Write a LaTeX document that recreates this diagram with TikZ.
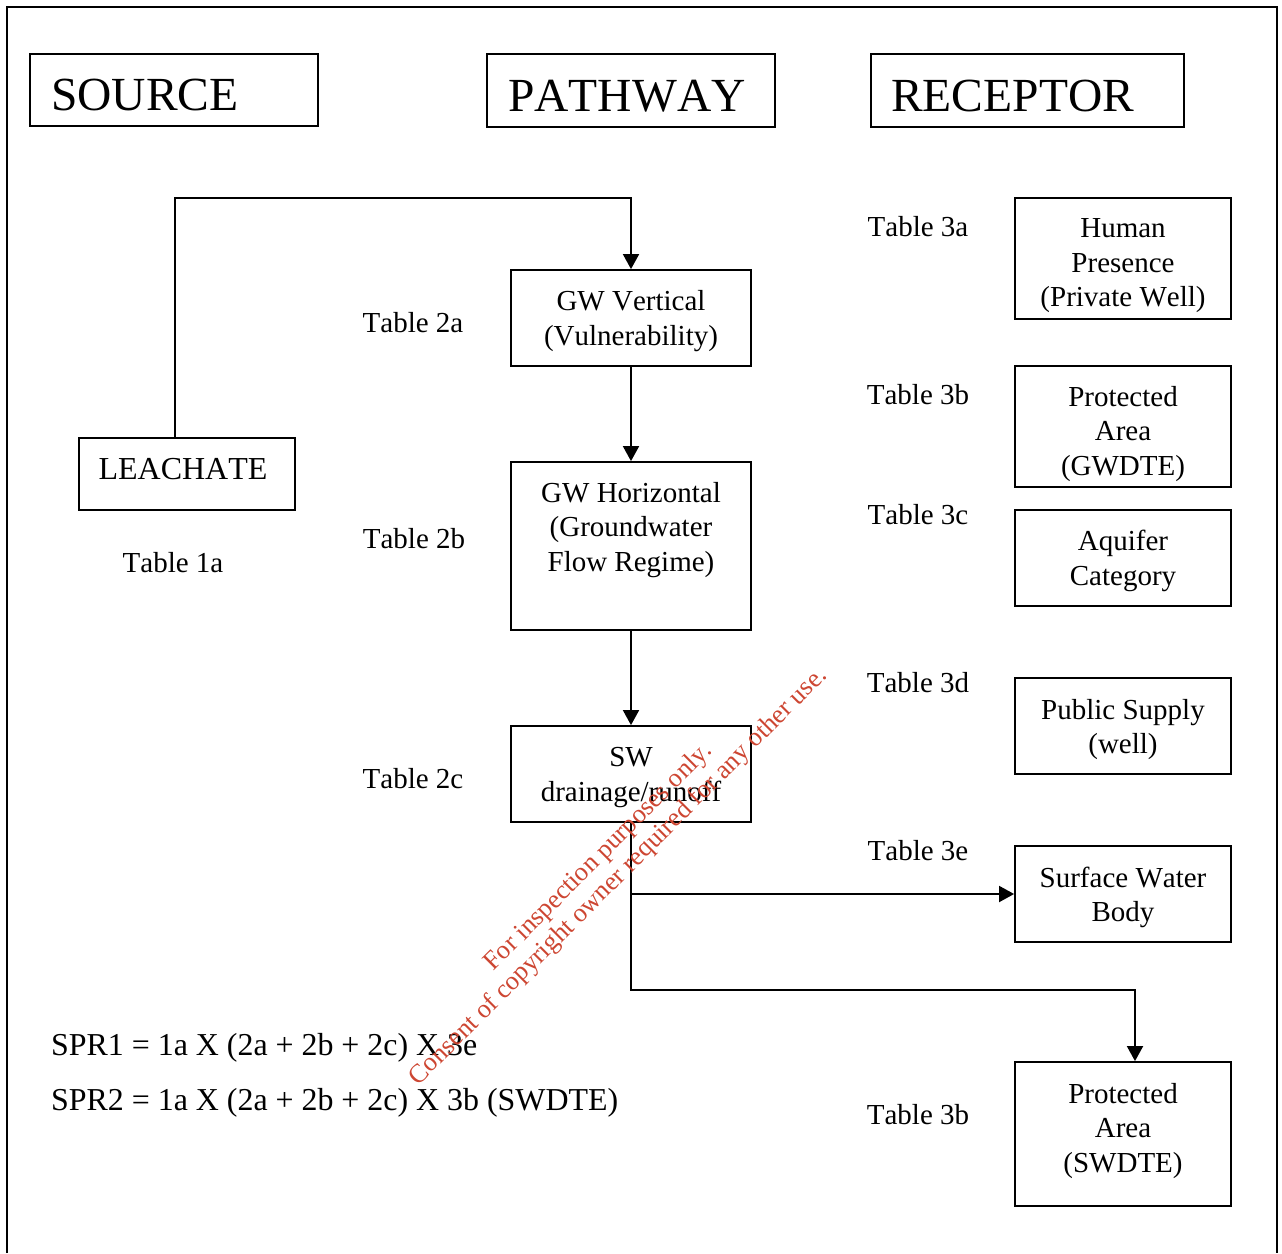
\documentclass[tikz,border=0pt]{standalone}
\usepackage{fontspec}
\setmainfont{Liberation Serif}[Kerning=Off]
\usetikzlibrary{arrows.meta}
\definecolor{wm}{RGB}{205,70,50}
\begin{document}
\begin{tikzpicture}[x=1pt,y=-1pt,
  box/.style={draw, line width=1.8pt, inner sep=0pt},
  txt/.style={font=\fontsize{29}{34.5}\selectfont, align=center, inner sep=0pt},
  mtxt/.style={txt, yshift=-4pt},
  big/.style={font=\fontsize{47.5}{56}\selectfont, inner sep=0pt, anchor=base west},
  conn/.style={line width=1.8pt},
  arr/.style={conn, -{Triangle[width=16pt,length=15pt]}}]

\useasboundingbox (0,0) rectangle (1282,1253);
\draw[line width=1.8pt] (7,1253) -- (7,7) -- (1277,7) -- (1277,1253);

% headers
\node[box, minimum width=288pt, minimum height=72pt] (srcbox) at (174,90) {};
\node[big] (src) at (51,110) {SOURCE};
\node[box, minimum width=288pt, minimum height=73pt] (pthbox) at (631,90.5) {};
\node[big] (pth) at (508,111) {PATHWAY};
\node[box, minimum width=313pt, minimum height=73pt] (recbox) at (1027.5,90.5) {};
\node[big] (rec) at (891,111) {RECEPTOR};

% source
\node[box, minimum width=216pt, minimum height=72pt] (leach) at (187,474) {};
\node[txt, font=\fontsize{32}{36}\selectfont] (leacht) at (183,469) {LEACHATE};
\node[txt] (t1a) at (173,563) {Table 1a};

% pathway
\node[box, minimum width=240pt, minimum height=96pt] (gwv) at (631,318) {};
\node[mtxt] (gwvt) at (631,317) {GW Vertical\\(Vulnerability)};
\node[box, minimum width=240pt, minimum height=168pt] (gwh) at (631,546) {};
\node[mtxt] (gwht) at (631,526) {GW Horizontal\\(Groundwater\\Flow Regime)};
\node[box, minimum width=240pt, minimum height=96pt] (sw) at (631,774) {};
\node[mtxt] (swt) at (631,773.5) {SW\\drainage/runoff};
\node[txt] (t2a) at (413,323) {Table 2a};
\node[txt] (t2b) at (414,539) {Table 2b};
\node[txt] (t2c) at (413,779) {Table 2c};

% receptors
\node[box, minimum width=216pt, minimum height=121pt] (hp) at (1123,258.5) {};
\node[mtxt] (hpt) at (1123,262) {Human\\Presence\\(Private Well)};
\node[box, minimum width=216pt, minimum height=121pt] (pag) at (1123,426.5) {};
\node[mtxt] (pagt) at (1123,430) {Protected\\Area\\(GWDTE)};
\node[box, minimum width=216pt, minimum height=96pt] (aq) at (1123,558) {};
\node[mtxt] (aqt) at (1123,557) {Aquifer\\Category};
\node[box, minimum width=216pt, minimum height=96pt] (ps) at (1123,726) {};
\node[mtxt] (pst) at (1123,725.5) {Public Supply\\(well)};
\node[box, minimum width=216pt, minimum height=96pt] (swb) at (1123,894) {};
\node[mtxt] (swbt) at (1123,893.5) {Surface Water\\Body};
\node[box, minimum width=216pt, minimum height=144pt] (pas) at (1123,1134) {};
\node[mtxt] (past) at (1123,1127) {Protected\\Area\\(SWDTE)};

\node[txt] (t3a) at (918,227) {Table 3a};
\node[txt] (t3b) at (918,395) {Table 3b};
\node[txt] (t3c) at (918,515) {Table 3c};
\node[txt] (t3d) at (918,683) {Table 3d};
\node[txt] (t3e) at (918,851) {Table 3e};
\node[txt] (t3b2) at (918,1115) {Table 3b};

% formulas
\node[txt, font=\fontsize{31.9}{36}\selectfont, anchor=base west] (spr1) at (51,1055) {SPR1 = 1a X (2a + 2b + 2c) X 3e};
\node[txt, font=\fontsize{31.9}{36}\selectfont, anchor=base west] (spr2) at (51,1110) {SPR2 = 1a X (2a + 2b + 2c) X 3b (SWDTE)};

% connectors
\coordinate (c1) at (175,198);
\coordinate (c2) at (631,198);
\coordinate (j1) at (631,894);
\coordinate (j2) at (631,990);
\coordinate (j3) at (1135,990);
\draw[arr] (leach.north -| c1) -- (c1) -- (c2) -- (gwv.north);
\draw[arr] (gwv.south) -- (gwh.north);
\draw[arr] (gwh.south) -- (sw.north);
\draw[arr] (sw.south) -- (j2) -- (j3) -- (pas.north -| j3);
\draw[arr] (j1) -- (swb.west);

% watermark
\node[rotate=45, text=wm, font=\fontsize{26.3}{28}\selectfont, align=center, inner sep=0pt] (wmark) at (609,867)
  {For inspection purposes only.\\Consent of copyright owner required for any other use.};
\end{tikzpicture}
\end{document}
